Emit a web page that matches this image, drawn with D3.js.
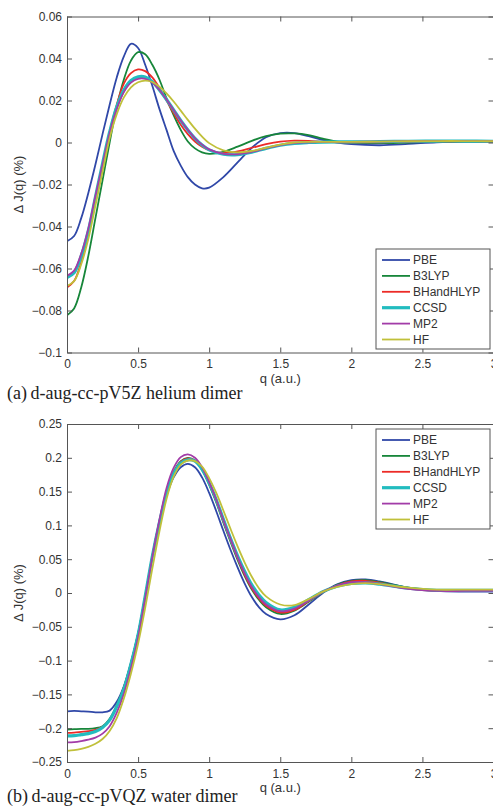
<!DOCTYPE html>
<html>
<head>
<meta charset="utf-8">
<script src="https://cdn.jsdelivr.net/npm/d3@7"></script>
<style>
  html, body { margin: 0; padding: 0; background: #fff; }
  svg { display: block; }
  .tick text { font-family: "Liberation Sans", Arial, sans-serif; font-size: 12px; fill: #333; }
</style>
</head>
<body>
<svg id="chart" width="493" height="806"></svg>
<script>
// ---------------- data ----------------
const methods = ["PBE", "B3LYP", "BHandHLYP", "CCSD", "MP2", "HF"];
const methodColors = ["#3048a8", "#17863a", "#ec2b27", "#22bcbf", "#a23ca8", "#c0c03a"];

const xTicks = [0, 0.5, 1, 1.5, 2, 2.5, 3];
const yTicksHe = [-0.1, -0.08, -0.06, -0.04, -0.02, 0, 0.02, 0.04, 0.06];
const yTicksW = [-0.25, -0.2, -0.15, -0.1, -0.05, 0, 0.05, 0.1, 0.15, 0.2, 0.25];

// (a) helium dimer
const qHe = [0,0.05,0.1,0.15,0.2,0.25,0.3,0.35,0.4,0.45,0.5,0.55,0.6,0.65,0.7,0.75,0.8,0.85,0.9,0.95,1.0,1.1,1.2,1.3,1.4,1.5,1.6,1.7,1.8,1.9,2.0,2.2,2.4,2.6,2.8,3.0];
const hePBE = [-0.047,-0.0445,-0.036,-0.024,-0.0105,0.004,0.018,0.031,0.041,0.047,0.045,0.037,0.027,0.016,0.006,-0.004,-0.011,-0.0165,-0.020,-0.0218,-0.0215,-0.0165,-0.0095,-0.0025,0.0025,0.0045,0.0045,0.003,0.0012,0.0,-0.0008,-0.0013,-0.0007,0.0001,0.0004,0.0004];
const heB3LYP = [-0.0823,-0.079,-0.069,-0.054,-0.036,-0.018,0.0,0.017,0.030,0.039,0.043,0.042,0.037,0.030,0.021,0.013,0.006,0.0005,-0.0028,-0.0047,-0.0054,-0.0045,-0.002,0.0008,0.003,0.0042,0.0043,0.0035,0.0018,0.0004,-0.0002,-0.0003,0.0,0.0003,0.0004,0.0004];
const heBHandHLYP = [-0.069,-0.066,-0.057,-0.044,-0.028,-0.011,0.005,0.018,0.028,0.033,0.0348,0.034,0.031,0.026,0.020,0.014,0.0085,0.004,0.0005,-0.002,-0.0037,-0.005,-0.0042,-0.0025,-0.0008,0.0004,0.0009,0.0008,0.0004,0.0001,0.0,0.0001,0.0003,0.0004,0.0005,0.0005];
const heCCSD = [-0.0643,-0.062,-0.054,-0.042,-0.026,-0.010,0.005,0.017,0.025,0.0295,0.0313,0.0312,0.029,0.025,0.0205,0.0155,0.0105,0.006,0.002,-0.0012,-0.0035,-0.0056,-0.0058,-0.0046,-0.0028,-0.0013,-0.0004,0.0,0.0002,0.0003,0.0003,0.0004,0.0006,0.0007,0.0007,0.0006];
const heMP2 = [-0.0635,-0.061,-0.053,-0.041,-0.0255,-0.0105,0.0045,0.016,0.024,0.0285,0.0303,0.0303,0.0285,0.025,0.0205,0.0155,0.0105,0.006,0.002,-0.001,-0.0033,-0.0054,-0.0056,-0.0045,-0.0027,-0.0012,-0.0003,0.0001,0.0002,0.0003,0.0003,0.0004,0.0006,0.0007,0.0007,0.0006];
const heHF = [-0.0683,-0.066,-0.058,-0.046,-0.030,-0.014,0.002,0.0135,0.0215,0.0263,0.0287,0.0295,0.0288,0.0266,0.0234,0.0195,0.0152,0.0108,0.0066,0.0028,-0.0003,-0.0037,-0.0047,-0.004,-0.0025,-0.001,0.0,0.0003,0.0003,0.0003,0.0003,0.0004,0.0006,0.0007,0.0007,0.0006];

// (b) water dimer
const qW = [0,0.05,0.1,0.15,0.2,0.25,0.3,0.35,0.4,0.45,0.5,0.55,0.6,0.65,0.7,0.75,0.8,0.85,0.9,0.95,1.0,1.05,1.1,1.15,1.2,1.25,1.3,1.35,1.4,1.5,1.6,1.7,1.8,1.9,2.0,2.1,2.2,2.4,2.6,2.8,3.0];
const wPBE = [-0.175,-0.1745,-0.175,-0.1755,-0.1765,-0.1765,-0.174,-0.161,-0.138,-0.103,-0.06,-0.005,0.053,0.102,0.144,0.171,0.186,0.191,0.186,0.171,0.148,0.121,0.092,0.064,0.038,0.014,-0.006,-0.021,-0.031,-0.039,-0.033,-0.017,0.0,0.013,0.019,0.020,0.017,0.008,0.003,0.002,0.002];
const wB3LYP = [-0.202,-0.2015,-0.201,-0.201,-0.2,-0.197,-0.186,-0.166,-0.14,-0.104,-0.061,-0.005,0.055,0.106,0.150,0.179,0.195,0.200,0.196,0.182,0.160,0.134,0.104,0.076,0.049,0.025,0.005,-0.010,-0.021,-0.031,-0.026,-0.013,0.001,0.012,0.018,0.019,0.016,0.008,0.004,0.003,0.003];
const wBHandHLYP = [-0.207,-0.2065,-0.2055,-0.2045,-0.2025,-0.198,-0.187,-0.167,-0.14,-0.104,-0.061,-0.005,0.054,0.105,0.149,0.178,0.194,0.199,0.196,0.183,0.162,0.136,0.106,0.078,0.051,0.027,0.007,-0.008,-0.019,-0.029,-0.025,-0.012,0.001,0.011,0.017,0.018,0.015,0.007,0.003,0.003,0.003];
const wCCSD = [-0.2115,-0.211,-0.2095,-0.208,-0.205,-0.199,-0.188,-0.168,-0.142,-0.105,-0.062,-0.005,0.054,0.104,0.147,0.176,0.192,0.197,0.195,0.183,0.163,0.138,0.109,0.081,0.055,0.032,0.012,-0.003,-0.014,-0.025,-0.021,-0.010,0.002,0.010,0.014,0.015,0.013,0.007,0.004,0.004,0.004];
const wMP2 = [-0.221,-0.2205,-0.219,-0.217,-0.214,-0.208,-0.197,-0.177,-0.149,-0.111,-0.066,-0.008,0.053,0.108,0.155,0.185,0.201,0.205,0.200,0.186,0.164,0.138,0.108,0.080,0.053,0.029,0.009,-0.006,-0.017,-0.027,-0.023,-0.011,0.002,0.011,0.016,0.016,0.013,0.006,0.003,0.003,0.003];
const wHF = [-0.2335,-0.2325,-0.2305,-0.2275,-0.223,-0.216,-0.204,-0.185,-0.156,-0.119,-0.075,-0.022,0.036,0.091,0.139,0.172,0.19,0.196,0.195,0.187,0.170,0.148,0.122,0.095,0.069,0.045,0.024,0.007,-0.005,-0.017,-0.018,-0.009,0.002,0.009,0.013,0.0145,0.013,0.008,0.005,0.005,0.005];

const panels = [
  { q: qHe, series: [hePBE, heB3LYP, heBHandHLYP, heCCSD, heMP2, heHF], yDomain: [-0.1, 0.06], yTicks: yTicksHe,
    top: 16.5, bottom: 352.5, caption: "(a)\u2009d-aug-cc-pV5Z helium dimer", captionY: 399,
    legend: { x: 376, y: 249 } },
  { q: qW, series: [wPBE, wB3LYP, wBHandHLYP, wCCSD, wMP2, wHF], yDomain: [-0.25, 0.25], yTicks: yTicksW,
    top: 424, bottom: 762, caption: "(b)\u2009d-aug-cc-pVQZ water dimer", captionY: 802,
    legend: { x: 376, y: 429 } }
];

// ---------------- drawing ----------------
const svg = d3.select("#chart");
const left = 67, right = 493.5;
const axisColor = "#555";
const fmt = v => (v === 0 ? "0" : d3.format("~g")(v)).replace("-", "\u2212");

panels.forEach((p, pi) => {
  const x = d3.scaleLinear().domain([0, 3]).range([left, right]);
  const y = d3.scaleLinear().domain(p.yDomain).range([p.bottom, p.top]);
  const g = svg.append("g");

  const clipId = "clip" + pi;
  svg.append("clipPath").attr("id", clipId).append("rect")
    .attr("x", left).attr("y", p.top).attr("width", right - left).attr("height", p.bottom - p.top);

  // lines
  const line = d3.line().x(d => x(d[0])).y(d => y(d[1])).curve(d3.curveCatmullRom.alpha(0.5));
  const lg = g.append("g").attr("clip-path", `url(#${clipId})`);
  p.series.forEach((s, i) => {
    lg.append("path")
      .datum(p.q.map((qq, k) => [qq, s[k]]))
      .attr("fill", "none")
      .attr("stroke", methodColors[i])
      .attr("stroke-width", methods[i] === "CCSD" ? 3.2 : 1.8)
      .attr("stroke-linejoin", "round")
      .attr("d", line);
  });

  // axes (box with inward ticks)
  const styleAxis = sel => {
    sel.selectAll(".domain").attr("stroke", axisColor).attr("stroke-width", 1);
    sel.selectAll(".tick line").attr("stroke", axisColor);
  };
  g.append("g").attr("transform", `translate(0,${p.bottom})`)
    .call(d3.axisBottom(x).tickValues(xTicks).tickFormat(fmt).tickSize(-5).tickSizeOuter(0).tickPadding(7))
    .call(styleAxis);
  g.append("g").attr("transform", `translate(0,${p.top})`)
    .call(d3.axisTop(x).tickValues(xTicks).tickFormat("").tickSize(-5).tickSizeOuter(0))
    .call(styleAxis);
  g.append("g").attr("transform", `translate(${left},0)`)
    .call(d3.axisLeft(y).tickValues(p.yTicks).tickFormat(fmt).tickSize(-5).tickSizeOuter(0).tickPadding(5))
    .call(styleAxis);
  g.append("g").attr("transform", `translate(${right},0)`)
    .call(d3.axisRight(y).tickValues(p.yTicks).tickFormat("").tickSize(-5).tickSizeOuter(0))
    .call(styleAxis);

  // axis titles
  g.append("text")
    .attr("transform", `translate(23,${(p.top + p.bottom) / 2}) rotate(-90)`)
    .attr("text-anchor", "middle")
    .attr("font-family", "Liberation Sans, Arial, sans-serif")
    .attr("font-size", 13).attr("fill", "#333")
    .text("\u0394 J(q) (%)");
  g.append("text")
    .attr("x", (left + right) / 2).attr("y", p.bottom + 30)
    .attr("text-anchor", "middle")
    .attr("font-family", "Liberation Sans, Arial, sans-serif")
    .attr("font-size", 13).attr("fill", "#333")
    .text("q (a.u.)");

  // caption
  g.append("text")
    .attr("x", 7).attr("y", p.captionY)
    .attr("font-family", "Liberation Serif, Times New Roman, serif")
    .attr("font-size", 18).attr("fill", "#222")
    .text(p.caption);

  // legend
  const L = p.legend, lw = 114, lh = 100, rowH = 15.9;
  const leg = g.append("g").attr("transform", `translate(${L.x},${L.y})`);
  leg.append("rect").attr("width", lw).attr("height", lh)
    .attr("fill", "#fff").attr("stroke", axisColor).attr("stroke-width", 1);
  methods.forEach((m, i) => {
    const yy = 11 + i * rowH;
    leg.append("line").attr("x1", 6).attr("x2", 34).attr("y1", yy).attr("y2", yy)
      .attr("stroke", methodColors[i]).attr("stroke-width", m === "CCSD" ? 3.2 : 1.8);
    leg.append("text").attr("x", 37).attr("y", yy).attr("dy", "0.35em")
      .attr("font-family", "Liberation Sans, Arial, sans-serif")
      .attr("font-size", 12).attr("fill", "#333")
      .text(m);
  });
});
</script>
</body>
</html>
